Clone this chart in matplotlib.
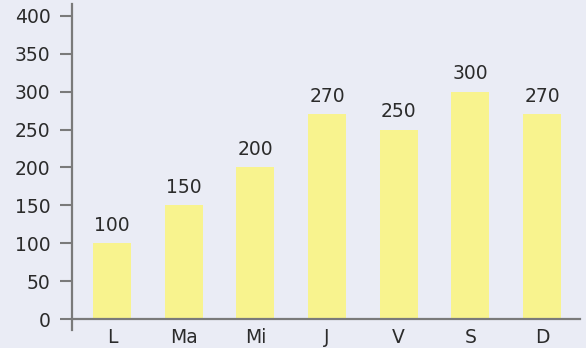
import numpy as np
import matplotlib.pyplot as plt

days = ['L', 'Ma', 'Mi', 'J', 'V', 'S', 'D']
values = [100, 150, 200, 270, 250, 300, 270]
yticks = [0, 50, 100, 150, 200, 250, 300, 350, 400]

bg = '#eaecf5'
barcol = '#f8f38e'
axcol = '#7a7a7a'
txtcol = '#2b2b2b'

plt.rcParams['font.family'] = ['DejaVu Sans']

fig = plt.figure(figsize=(5.86, 3.48), dpi=100, facecolor=bg)
ax = fig.add_axes([72/586, 18/348, 508/586, 326/348])
ax.set_facecolor(bg)

x = np.arange(len(days))
ax.bar(x, values, width=0.53, color=barcol, zorder=2)
for xi, v in zip(x, values):
  ax.annotate(str(v), (xi, v), xytext=(0, 6), textcoords='offset points',
              ha='center', va='bottom', fontsize=13.5, color=txtcol)

ax.set_xlim(-0.56, 6.53)
ax.set_ylim(-14.5, 415.8)
ax.set_xticks(x)
ax.set_xticklabels(days)
ax.set_yticks(yticks)

for s in ['top', 'right']:
  ax.spines[s].set_visible(False)
ax.spines['bottom'].set_position(('data', 0))
for s in ['left', 'bottom']:
  ax.spines[s].set_color(axcol)
  ax.spines[s].set_linewidth(1.6)
  ax.spines[s].set_zorder(3)

ax.tick_params(axis='y', length=8.6, width=1.5, color=axcol, pad=7,
               labelsize=13.5, labelcolor=txtcol)
ax.tick_params(axis='x', length=0, pad=6.5, labelsize=13.5, labelcolor=txtcol)

fig.savefig('out.png', dpi=100, facecolor=bg)
